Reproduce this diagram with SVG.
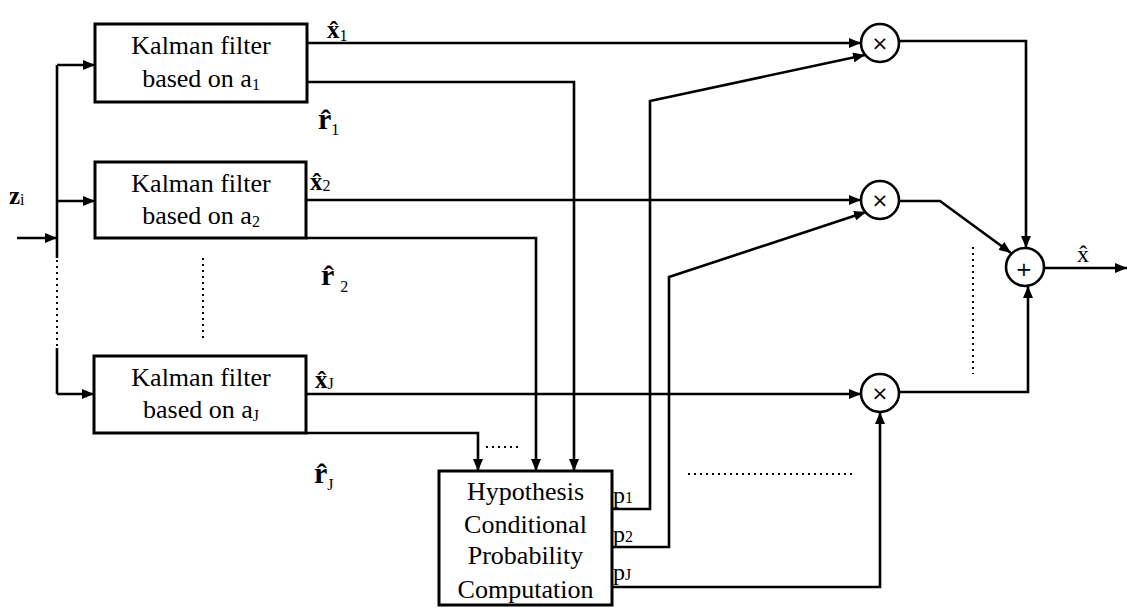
<svg xmlns="http://www.w3.org/2000/svg" width="1127" height="608" viewBox="0 0 1127 608">
<style>
text{font-family:"Liberation Serif","Times New Roman",serif;fill:#000}
.box{fill:#fff;stroke:#000;stroke-width:3}
.t{font-size:26px;text-anchor:middle}
.sub{font-size:16px;font-weight:normal}
.v{font-size:25px;font-weight:bold}
.r{font-size:30px;font-weight:bold}
.p{font-size:24px}
.ln{fill:none;stroke:#000;stroke-width:2.6}
.dot{fill:none;stroke:#000;stroke-width:2;stroke-dasharray:2 4}
.circ{fill:#fff;stroke:#000;stroke-width:2.6}
.op{font-family:"DejaVu Sans",sans-serif;font-size:20px;text-anchor:middle}
</style>
<defs>
<marker id="arr" viewBox="0 0 12 10" refX="12" refY="5" markerWidth="12" markerHeight="10" orient="auto" markerUnits="userSpaceOnUse">
<path d="M0,0 L12,5 L0,10 z" fill="#000"/>
</marker>
</defs>

<g id="connectors">
<path class="ln" d="M17,238 H57" marker-end="url(#arr)"/>
<path class="ln" d="M57,65 V258"/>
<path class="dot" d="M57,260 V348"/>
<path class="ln" d="M57,348 V394"/>
<path class="ln" d="M57,65 H95" marker-end="url(#arr)"/>
<path class="ln" d="M57,201 H95" marker-end="url(#arr)"/>
<path class="ln" d="M57,394 H94" marker-end="url(#arr)"/>
<path class="dot" d="M203,258 V338"/>
<path class="ln" d="M307,43 H861" marker-end="url(#arr)"/>
<path class="ln" d="M307,82 H574 V471" marker-end="url(#arr)"/>
<path class="ln" d="M306,200 H861" marker-end="url(#arr)"/>
<path class="ln" d="M306,238 H536 V471" marker-end="url(#arr)"/>
<path class="ln" d="M306,394 H861" marker-end="url(#arr)"/>
<path class="ln" d="M306,433 H478 V471" marker-end="url(#arr)"/>
<path class="dot" d="M486,447 H522"/>
<path class="ln" d="M612,509 H650 V101 L865,55" marker-end="url(#arr)"/>
<path class="ln" d="M612,547 H669 V277 L866,212" marker-end="url(#arr)"/>
<path class="ln" d="M612,587 H880 V412" marker-end="url(#arr)"/>
<path class="ln" d="M899,41 H1026 V248" marker-end="url(#arr)"/>
<path class="ln" d="M899,201 H940 L1011,253" marker-end="url(#arr)"/>
<path class="ln" d="M899,392 H1028 V286" marker-end="url(#arr)"/>
<path class="ln" d="M1044,268 H1127" marker-end="url(#arr)"/>
<path class="dot" d="M973,247 V374"/>
<path class="dot" d="M688,474 H852"/>
</g>

<g id="kf1">
<rect class="box" x="95" y="24" width="212" height="78"/>
<text class="t" x="201" y="54">Kalman filter</text>
<text class="t" x="201" y="87">based on a<tspan class="sub" dy="3">1</tspan></text>
</g>
<g id="kf2">
<rect class="box" x="95" y="162" width="211" height="76"/>
<text class="t" x="201" y="192">Kalman filter</text>
<text class="t" x="201" y="224">based on a<tspan class="sub" dy="3">2</tspan></text>
</g>
<g id="kfJ">
<rect class="box" x="94" y="356" width="212" height="77"/>
<text class="t" x="201" y="386">Kalman filter</text>
<text class="t" x="201" y="418">based on a<tspan class="sub" dy="3">J</tspan></text>
</g>
<g id="hcpc">
<rect class="box" x="439" y="471" width="173" height="134"/>
<text class="t" x="525.5" y="500">Hypothesis</text>
<text class="t" x="525.5" y="533">Conditional</text>
<text class="t" x="525.5" y="564">Probability</text>
<text class="t" x="525.5" y="598">Computation</text>
</g>
<g id="mul1">
<circle class="circ" cx="880" cy="43" r="19"/>
<text class="op" x="880" y="50">×</text>
</g>
<g id="mul2">
<circle class="circ" cx="880" cy="200" r="19"/>
<text class="op" x="880" y="207">×</text>
</g>
<g id="mulJ">
<circle class="circ" cx="880" cy="393" r="19"/>
<text class="op" x="880" y="400">×</text>
</g>
<g id="sum">
<circle class="circ" cx="1025" cy="267" r="19"/>
<text class="op" x="1024" y="276">+</text>
</g>

<g id="labels">
<text class="v" x="9" y="204">z<tspan class="sub" dy="1">i</tspan></text>
<text class="v" x="327" y="38">x̂<tspan class="sub" dy="3">1</tspan></text>
<text class="r" x="318" y="129">r̂<tspan class="sub" dy="6">1</tspan></text>
<text class="v" x="310" y="190">x̂<tspan class="sub" dy="1">2</tspan></text>
<text class="r" x="321" y="285">r̂<tspan class="sub" dx="6" dy="7">2</tspan></text>
<text class="v" x="315" y="388">x̂<tspan class="sub" dy="1">J</tspan></text>
<text class="r" x="314" y="483">r̂<tspan class="sub" dy="7">J</tspan></text>
<text class="p" x="613" y="503">p<tspan class="sub">1</tspan></text>
<text class="p" x="613" y="542">p<tspan class="sub">2</tspan></text>
<text class="p" x="613" y="580">p<tspan class="sub">J</tspan></text>
<text class="p" x="1077" y="262">x̂</text>
</g>
</svg>
